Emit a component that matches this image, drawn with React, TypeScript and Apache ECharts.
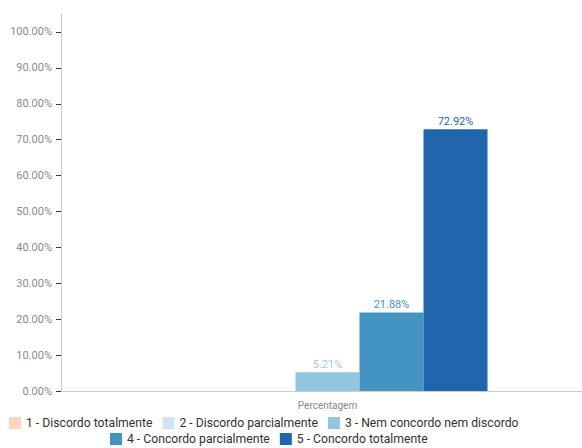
import React, { useEffect, useRef } from "react";
import * as echarts from "echarts";

const categories = ["Percentagem"];
const seriesNames = [
  "1 - Discordo totalmente",
  "2 - Discordo parcialmente",
  "3 - Nem concordo nem discordo",
  "4 - Concordo parcialmente",
  "5 - Concordo totalmente",
];
const seriesValues = [[0], [0], [5.21], [21.88], [72.92]];
const colors = ["#fdd5c0", "#d1e5f0", "#92c5de", "#4393c3", "#2166ac"];
const labelColors = ["#f4a582", "#a6cce3", "#9ecae1", "#4393c3", "#2166ac"];
const yTicks = [0, 10, 20, 30, 40, 50, 60, 70, 80, 90, 100];

const FONT = "Roboto";

export default function App() {
  const ref = useRef<HTMLDivElement>(null);
  useEffect(() => {
    if (!ref.current) return;
    const chart = echarts.init(ref.current, null, { renderer: "svg" });
    const legendCommon = {
      orient: "horizontal",
      padding: 0,
      itemWidth: 12,
      itemHeight: 12,
      itemGap: 10,
      icon: "rect",
      textStyle: { fontFamily: FONT, fontSize: 12.2, color: "#333" },
    };
    chart.setOption({
      animation: false,
      textStyle: { fontFamily: FONT },
      grid: {
        left: 61,
        top: 14,
        width: 533,
        bottom: 57,
        containLabel: false,
        outerBoundsMode: "none",
      },
      legend: [
        { ...legendCommon, data: seriesNames.slice(0, 3), top: 417, left: 9 },
        { ...legendCommon, data: seriesNames.slice(3), top: 433, left: 110 },
      ],
      xAxis: {
        type: "category",
        data: categories,
        axisLine: { lineStyle: { color: "#cccccc" } },
        axisTick: { show: false },
        axisLabel: { color: "#888", fontSize: 10, margin: 9, fontFamily: FONT },
      },
      yAxis: {
        type: "value",
        min: 0,
        max: 105,
        interval: 10,
        axisLine: { show: true, lineStyle: { color: "#cccccc" } },
        axisTick: { show: true, length: 5, lineStyle: { color: "#333" }, customValues: yTicks },
        splitLine: { show: false },
        axisLabel: {
          color: "#8a8a8a",
          fontSize: 11,
          margin: 9,
          fontFamily: FONT,
          customValues: yTicks,
          formatter: (v: number) => (v > 100 ? "" : v.toFixed(2) + "%"),
        },
      },
      series: seriesNames.map((name, i) => ({
        name,
        type: "bar",
        data: seriesValues[i],
        barWidth: 64,
        barGap: "0%",
        itemStyle: { color: colors[i] },
        label: {
          show: seriesValues[i][0] > 0,
          position: "top",
          distance: 2,
          color: labelColors[i],
          fontSize: 11,
          fontFamily: FONT,
          formatter: (p: any) => p.value.toFixed(2) + "%",
        },
      })),
    });
    return () => chart.dispose();
  }, []);
  return <div ref={ref} style={{ width: 582, height: 448, position: "absolute", left: 0, top: 0 }} />;
}
